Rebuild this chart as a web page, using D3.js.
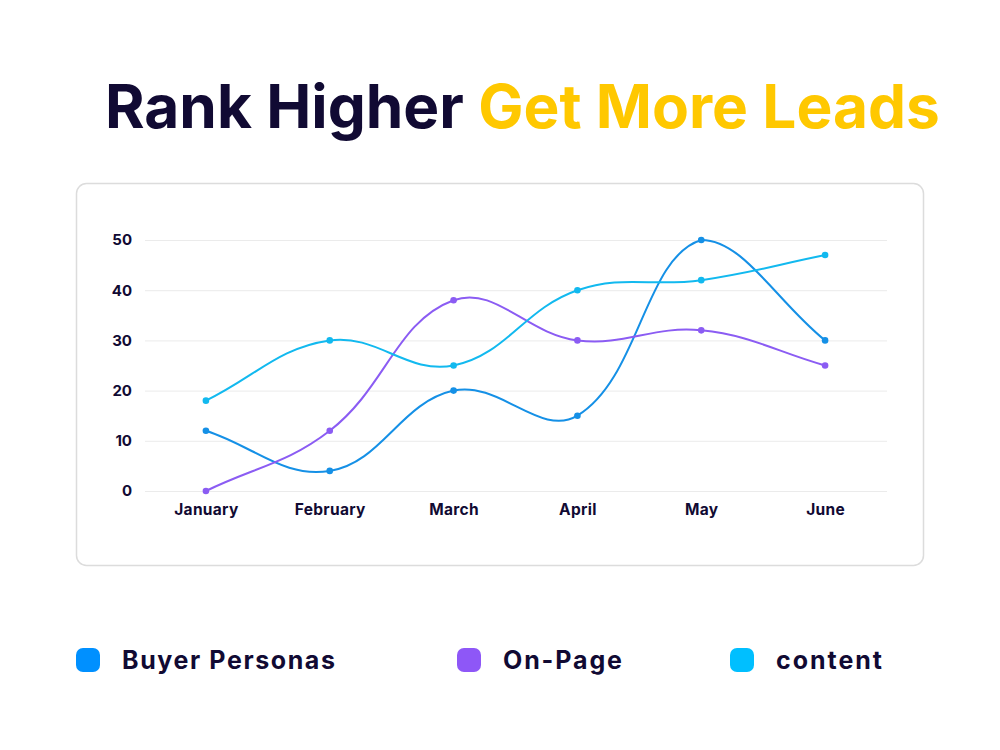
<!DOCTYPE html>
<html><head><meta charset="utf-8">
<script src="https://cdn.jsdelivr.net/npm/d3@7"></script>
<style>body{margin:0;background:#fff;} svg{display:block;}</style>
</head><body>
<svg id="c" width="1000" height="750"></svg>
<script>
const months = ["January","February","March","April","May","June"];
const buyerPersonas = [12,4,20,15,50,30];
const onPage = [0,12,38,30,32,25];
const content = [18,30,25,40,42,47];
const yTicks = [0,10,20,30,40,50];
const seriesNames = ["Buyer Personas","On-Page","content"];
const lineColors = ["#1590e6","#8b5cf3","#12b9ef"];
const legendColors = ["#0090ff","#8e57f7","#00bfff"];

(function(){
const svg = d3.select("#c");
const font = "Inter, 'Open Sans', sans-serif";
const dark = "#110a33";

// title
const title = svg.append("text").attr("x",105).attr("y",128)
  .attr("font-family",font).attr("font-weight",700).attr("font-size",52);
title.append("tspan").attr("fill",dark).text("Rank Higher ");
title.append("tspan").attr("fill","#ffc800").text("Get More Leads");
const tw = title.node().getComputedTextLength();
title.attr("font-size", 52*835/tw);

// card
svg.append("rect").attr("x",76.5).attr("y",183.5).attr("width",847).attr("height",382)
  .attr("rx",10).attr("fill","#fff").attr("stroke","#dcdcdc").attr("stroke-width",1.5);

const pl=144, pr=887, pt=240, pb=491;
const x = d3.scalePoint().domain(months).range([pl,pr]).padding(0.5);
const y = d3.scaleLinear().domain([0,50]).range([pb,pt]);

// grid
svg.append("g").selectAll("line").data(yTicks).join("line")
  .attr("x1",145).attr("x2",887).attr("y1",d=>y(d)+0.5).attr("y2",d=>y(d)+0.5)
  .attr("stroke","#ebebeb").attr("stroke-width",1);

// axes
const yAxis = svg.append("g").attr("transform",`translate(${pl-12},0)`)
  .call(d3.axisLeft(y).tickValues(yTicks).tickSize(0).tickPadding(0));
yAxis.select(".domain").remove();
yAxis.selectAll("text").attr("font-family",font).attr("font-weight",700)
  .attr("font-size",15).attr("fill",dark);

const xAxis = svg.append("g").attr("transform",`translate(0,${pb+10})`)
  .call(d3.axisBottom(x).tickSize(0).tickPadding(0));
xAxis.select(".domain").remove();
xAxis.selectAll("text").attr("font-family",font).attr("font-weight",700)
  .attr("font-size",15.5).attr("fill",dark).attr("dy","0.9em")
  .attr("letter-spacing",0.3);

// chart.js-like spline with tension 0.4, control points clamped to area
function splinePath(pts, tension, area){
  const n = pts.length;
  const cps = pts.map(()=>({}));
  for(let i=0;i<n;i++){
    const p = pts[i], prev = pts[i-1]||p, next = pts[i+1]||p;
    const d01 = Math.hypot(p[0]-prev[0], p[1]-prev[1]);
    const d12 = Math.hypot(next[0]-p[0], next[1]-p[1]);
    let s01 = d01/(d01+d12), s12 = d12/(d01+d12);
    if(isNaN(s01)) s01=0; if(isNaN(s12)) s12=0;
    const fa = tension*s01, fb = tension*s12;
    cps[i].prev = [p[0]-fa*(next[0]-prev[0]), p[1]-fa*(next[1]-prev[1])];
    cps[i].next = [p[0]+fb*(next[0]-prev[0]), p[1]+fb*(next[1]-prev[1])];
  }
  const cl = (q)=>[Math.max(area.l,Math.min(area.r,q[0])), Math.max(area.t,Math.min(area.b,q[1]))];
  const path = d3.path();
  path.moveTo(pts[0][0], pts[0][1]);
  for(let i=1;i<n;i++){
    const a = cl(cps[i-1].next), b = cl(cps[i].prev);
    path.bezierCurveTo(a[0],a[1],b[0],b[1],pts[i][0],pts[i][1]);
  }
  return path.toString();
}

const allSeries = [buyerPersonas, onPage, content];
const area = {l:pl,r:pr,t:pt,b:pb};
allSeries.forEach((vals,si)=>{
  const pts = vals.map((v,i)=>[x(months[i]), y(v)]);
  svg.append("path").attr("d", splinePath(pts,0.4,area))
    .attr("fill","none").attr("stroke",lineColors[si]).attr("stroke-width",2);
  svg.append("g").selectAll("circle").data(vals).join("circle")
    .attr("cx",(d,i)=>x(months[i])).attr("cy",d=>y(d)).attr("r",3.3)
    .attr("fill",lineColors[si]);
});

// legend
const legX = [76,457,730];
const legW = [213,119,106];
const lg = svg.append("g");
seriesNames.forEach((name,i)=>{
  lg.append("rect").attr("x",legX[i]).attr("y",648).attr("width",24).attr("height",24)
    .attr("rx",7).attr("fill",legendColors[i]);
  const t = lg.append("text").attr("x",legX[i]+46).attr("y",669).attr("font-family",font)
    .attr("font-weight",700).attr("font-size",25).attr("fill",dark).text(name);
  const w = t.node().getComputedTextLength();
  const n = name.length;
  t.attr("letter-spacing", (legW[i]-w)/(n-1));
});
})();
</script>
</body></html>
